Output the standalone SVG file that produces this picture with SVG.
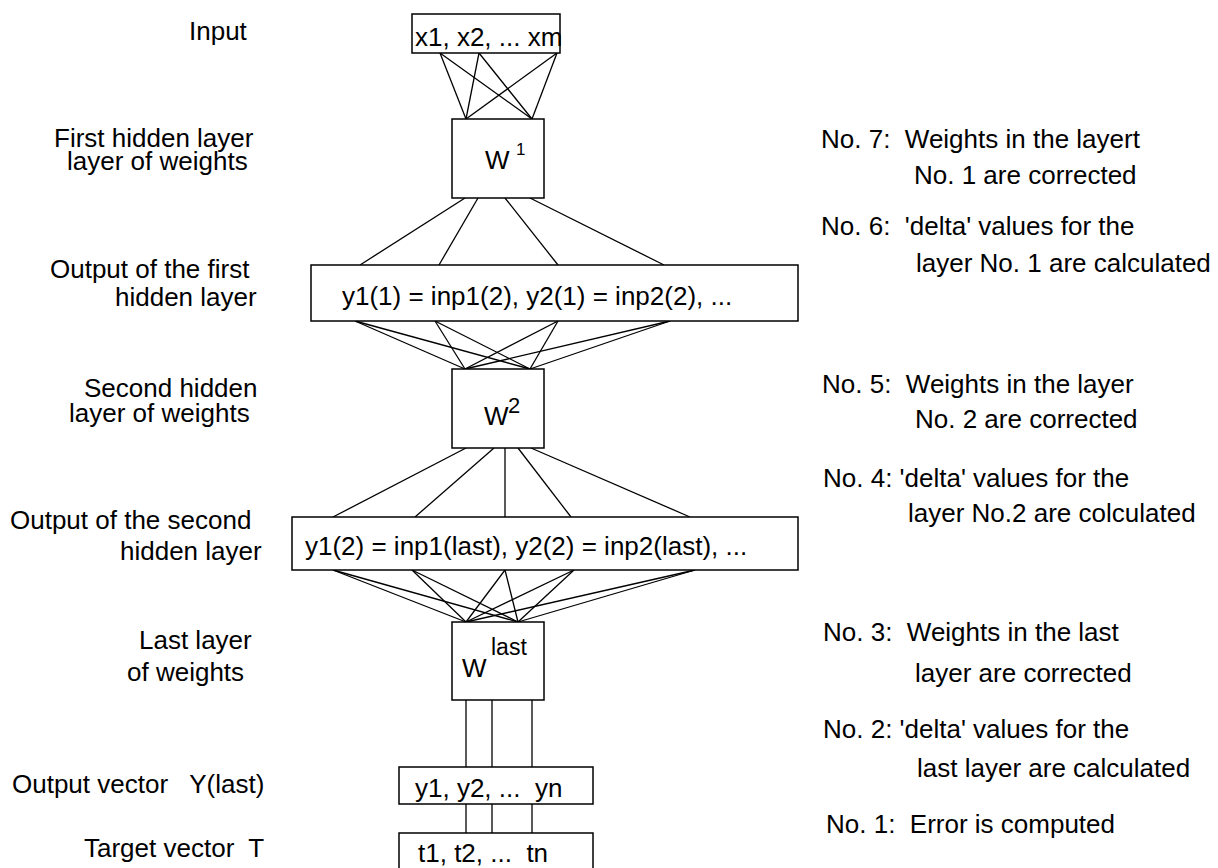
<svg xmlns="http://www.w3.org/2000/svg" width="1218" height="868" viewBox="0 0 1218 868">
<style>
text { font-family: "Liberation Sans", Arial, sans-serif; font-size: 26px; fill: #000; white-space: pre; }
.box { fill: #fff; stroke: #000; stroke-width: 1.5; }
.con line { stroke: #000; stroke-width: 1.3; }
.sup1 { font-size: 17px; }
.sup2 { font-size: 22px; }
.supl { font-size: 23px; }
</style>
<rect width="1218" height="868" fill="#fff"/>
<g id="connectors" class="con">
  <line x1="440" y1="53" x2="466" y2="119"/>
  <line x1="440" y1="53" x2="532" y2="119"/>
  <line x1="479" y1="53" x2="466" y2="119"/>
  <line x1="479" y1="53" x2="532" y2="119"/>
  <line x1="557" y1="53" x2="466" y2="119"/>
  <line x1="557" y1="53" x2="532" y2="119"/>
  <line x1="465" y1="198" x2="360" y2="265"/>
  <line x1="478" y1="198" x2="439" y2="265"/>
  <line x1="505" y1="198" x2="558" y2="265"/>
  <line x1="530" y1="198" x2="664" y2="265"/>
  <line x1="355" y1="321" x2="465" y2="369"/>
  <line x1="355" y1="321" x2="530" y2="369"/>
  <line x1="435" y1="321" x2="465" y2="369"/>
  <line x1="435" y1="321" x2="530" y2="369"/>
  <line x1="558" y1="321" x2="465" y2="369"/>
  <line x1="558" y1="321" x2="530" y2="369"/>
  <line x1="670" y1="321" x2="465" y2="369"/>
  <line x1="670" y1="321" x2="530" y2="369"/>
  <line x1="466" y1="448" x2="333" y2="517"/>
  <line x1="494" y1="448" x2="415" y2="517"/>
  <line x1="505" y1="448" x2="505" y2="517"/>
  <line x1="518" y1="448" x2="571" y2="517"/>
  <line x1="531" y1="448" x2="690" y2="517"/>
  <line x1="333" y1="570" x2="466" y2="622"/>
  <line x1="333" y1="570" x2="518" y2="622"/>
  <line x1="412" y1="570" x2="466" y2="622"/>
  <line x1="412" y1="570" x2="518" y2="622"/>
  <line x1="505" y1="570" x2="466" y2="622"/>
  <line x1="505" y1="570" x2="518" y2="622"/>
  <line x1="574" y1="570" x2="466" y2="622"/>
  <line x1="574" y1="570" x2="518" y2="622"/>
  <line x1="695" y1="570" x2="466" y2="622"/>
  <line x1="695" y1="570" x2="518" y2="622"/>
  <line x1="466" y1="700" x2="466" y2="767"/>
  <line x1="492" y1="700" x2="492" y2="767"/>
  <line x1="532" y1="700" x2="532" y2="767"/>
  <line x1="466" y1="804" x2="466" y2="833"/>
  <line x1="492" y1="804" x2="492" y2="833"/>
  <line x1="532" y1="804" x2="532" y2="833"/>
</g>
<g id="input">
  <rect class="box" x="412" y="14" width="148" height="39"/>
  <text x="415" y="46">x1, x2, ... xm</text>
</g>
<g id="w1">
  <rect class="box" x="452" y="119" width="92" height="79"/>
  <text x="485" y="169">W</text>
  <text class="sup1" x="516" y="155">1</text>
</g>
<g id="out1">
  <rect class="box" x="311" y="265" width="487" height="56"/>
  <text x="342" y="305">y1(1) = inp1(2), y2(1) = inp2(2), ...</text>
</g>
<g id="w2">
  <rect class="box" x="452" y="369" width="92" height="79"/>
  <text x="484" y="425">W</text>
  <text class="sup2" x="508" y="413">2</text>
</g>
<g id="out2">
  <rect class="box" x="292" y="517" width="506" height="53"/>
  <text x="305" y="555">y1(2) = inp1(last), y2(2) = inp2(last), ...</text>
</g>
<g id="wlast">
  <rect class="box" x="452" y="622" width="92" height="78"/>
  <text x="462" y="677">W</text>
  <text class="supl" x="491" y="655">last</text>
</g>
<g id="outvec">
  <rect class="box" x="399" y="767" width="194" height="37"/>
  <text x="415" y="797">y1, y2, ...  yn</text>
</g>
<g id="target">
  <rect class="box" x="399" y="833" width="194" height="40"/>
  <text x="418" y="862">t1, t2, ...  tn</text>
</g>
<g id="left-labels">
  <text x="189" y="40">Input</text>
  <text x="54" y="147">First hidden layer</text>
  <text x="67" y="170">layer of weights</text>
  <text x="50" y="278">Output of the first</text>
  <text x="115" y="306">hidden layer</text>
  <text x="84" y="397">Second hidden</text>
  <text x="69" y="422">layer of weights</text>
  <text x="10" y="529">Output of the second</text>
  <text x="120" y="560">hidden layer</text>
  <text x="139" y="649">Last layer</text>
  <text x="127" y="681">of weights</text>
  <text x="12" y="793">Output vector   Y(last)</text>
  <text x="84" y="857">Target vector  T</text>
</g>
<g id="right-labels">
  <text x="821" y="148">No. 7:  Weights in the layert</text>
  <text x="914" y="184">No. 1 are corrected</text>
  <text x="821" y="235">No. 6:  'delta' values for the</text>
  <text x="916" y="272">layer No. 1 are calculated</text>
  <text x="822" y="393">No. 5:  Weights in the layer</text>
  <text x="915" y="428">No. 2 are corrected</text>
  <text x="823" y="487">No. 4: 'delta' values for the</text>
  <text x="908" y="522">layer No.2 are colculated</text>
  <text x="823" y="641">No. 3:  Weights in the last</text>
  <text x="915" y="682">layer are corrected</text>
  <text x="823" y="738">No. 2: 'delta' values for the</text>
  <text x="917" y="777">last layer are calculated</text>
  <text x="826" y="833">No. 1:  Error is computed</text>
</g>
</svg>
